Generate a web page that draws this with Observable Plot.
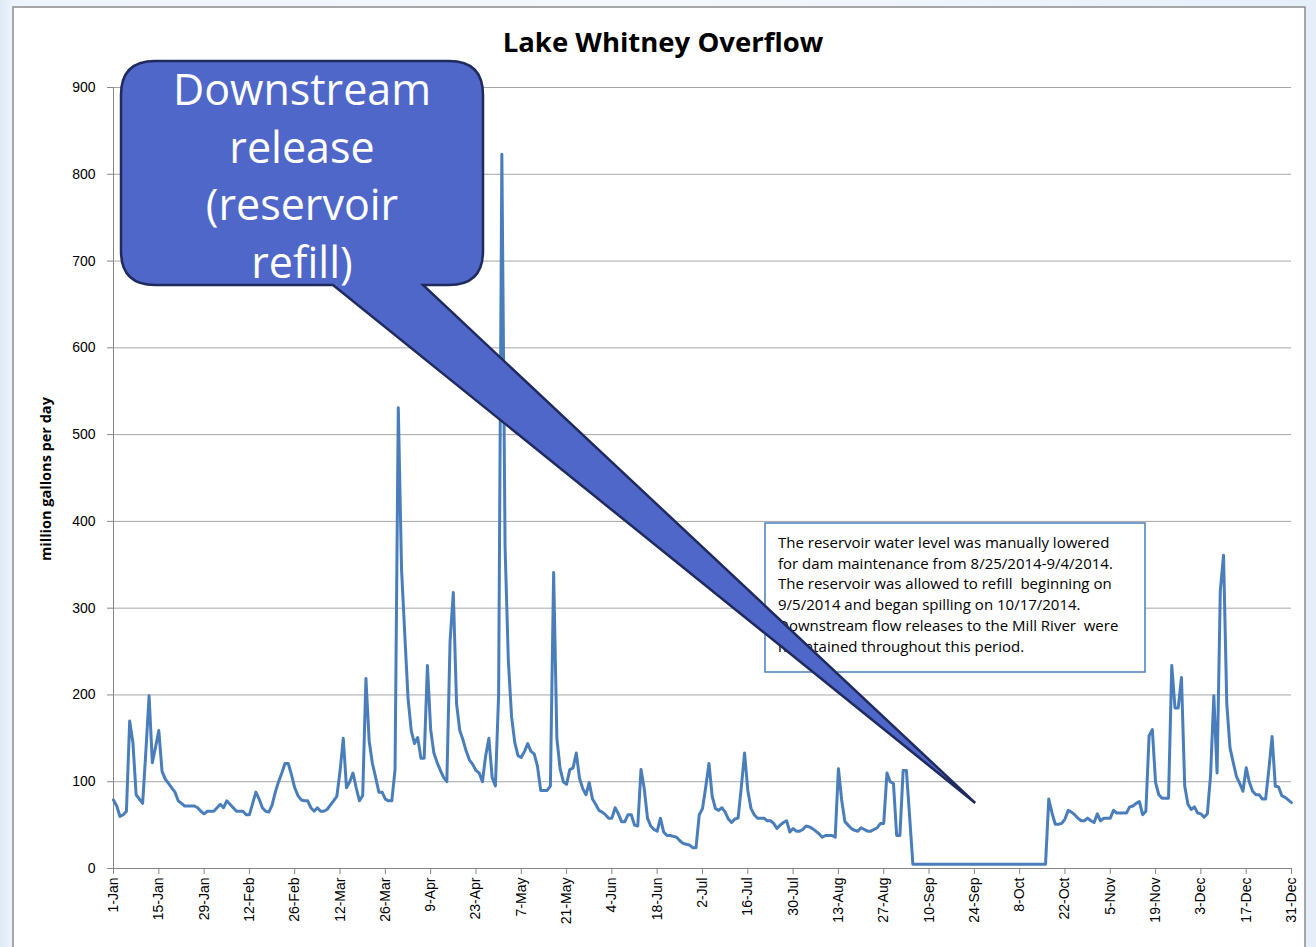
<!DOCTYPE html>
<html><head><meta charset="utf-8">
<script src="https://cdn.jsdelivr.net/npm/d3@7"></script>
<script src="https://cdn.jsdelivr.net/npm/@observablehq/plot@0.6"></script>
<style>
html,body{margin:0;padding:0;width:1316px;height:947px;overflow:hidden;
 background:linear-gradient(90deg,#dfeaf7 0px,#eef4fb 14px,#f4f8fc 50%,#e6eff9 100%);}
#chart{position:absolute;left:0;top:0;}
</style></head><body><div id="chart"></div>
<script>
// ---- data (million gallons per day, daily 2014) ----
const jan = [79,72,60,62,66,170,145,85,80,75,135,199,122,140,159,112,103,98,93,88,78,75,72,72,72,72,70,66,63,66,66];
const feb = [66,70,74,70,78,74,70,66,66,66,62,62,75,88,80,70,66,65,73,88,100,110,121,121,108,93,84,79];
const mar = [78,78,70,66,70,66,66,68,73,78,83,112,150,93,100,110,93,78,84,219,147,121,105,88,88,80,78,78,114,531,345];
const apr = [270,197,159,144,151,127,127,234,160,133,122,113,105,100,262,318,190,159,148,135,125,120,113,110,100,130,150,105,95,200];
const may = [823,370,240,175,145,130,128,135,144,135,132,118,90,90,90,95,341,150,115,100,97,114,116,133,104,92,85,99,80,74,67];
const jun = [65,62,58,58,70,63,54,54,62,62,50,49,114,92,58,49,45,43,58,42,38,38,37,36,32,29,28,27,24,24];
const jul = [62,69,94,121,83,69,67,70,65,57,53,57,58,94,133,90,69,62,58,58,58,55,55,52,46,50,53,55,42,46,43];
const aug = [43,45,49,48,46,43,40,36,38,38,38,36,115,79,54,50,46,44,43,47,45,43,43,45,47,52,52,110,100,98,38];
const sep = [38,113,113,60,5,5,5,5,5,5,5,5,5,5,5,5,5,5,5,5,5,5,5,5,5,5,5,5,5,5];
const oct = [5,5,5,5,5,5,5,5,5,5,5,5,5,5,5,5,80,64,51,51,52,57,67,65,62,58,55,55,58,55,53];
const nov = [63,55,58,58,58,67,64,64,64,64,71,72,75,77,62,66,153,160,99,85,81,81,81,234,185,185,220,95,74,68];
const dec = [71,64,63,59,63,108,199,110,320,361,190,139,122,106,98,89,116,99,89,85,85,80,80,114,152,95,94,84,82,79,76];

const xTickLabels = ["1-Jan","15-Jan","29-Jan","12-Feb","26-Feb","12-Mar","26-Mar","9-Apr","23-Apr","7-May","21-May","4-Jun","18-Jun","2-Jul","16-Jul","30-Jul","13-Aug","27-Aug","10-Sep","24-Sep","8-Oct","22-Oct","5-Nov","19-Nov","3-Dec","17-Dec","31-Dec"];
const yTicks = [0,100,200,300,400,500,600,700,800,900];

const title = "Lake Whitney Overflow";
const yLabel = "million gallons per day";
const calloutLines = ["Downstream","release","(reservoir","refill)"];
const calloutTarget = {date: "2014-09-24T10:00:00Z", value: 75};
const noteLines = [
  "The reservoir water level was manually lowered",
  "for dam maintenance from 8/25/2014-9/4/2014.",
  "The reservoir was allowed to refill  beginning on",
  "9/5/2014 and began spilling on 10/17/2014.",
  "Downstream flow releases to the Mill River  were",
  "maintained throughout this period."
];

// ---- build table ----
const values = [jan,feb,mar,apr,may,jun,jul,aug,sep,oct,nov,dec].flat();
const data = values.map((v,i)=>({date:new Date(Date.UTC(2014,0,1+i)), value:v}));
const tickDates = xTickLabels.map((l,i)=>new Date(Date.UTC(2014,0,1+14*i)));
const labelOf = new Map(tickDates.map((d,i)=>[+d, xTickLabels[i]]));

const W = 1316, H = 947;
const font = "'Liberation Sans', Arial, sans-serif";
const sans = "'Open Sans', sans-serif";

const plot = Plot.plot({
  width: W, height: H,
  marginLeft: 113, marginRight: 25, marginTop: 87, marginBottom: 79,
  style: {fontFamily: font, fontSize: "14px", background: "transparent", color: "#000", overflow: "visible"},
  x: {type: "utc", domain: [tickDates[0], tickDates[tickDates.length-1]]},
  y: {domain: [0, 900]},
  marks: [
    Plot.ruleY(yTicks.slice(1), {stroke: "#a6a6a6", strokeWidth: 1}),
    Plot.axisY({ticks: yTicks, tickSize: 6, tickPadding: 12, label: null, fontSize: 14, tickFormat: d => String(d)}),
    Plot.axisX({ticks: tickDates, tickSize: 6, tickPadding: 3, tickRotate: -90, label: null, fontSize: 14,
      tickFormat: d => labelOf.get(+d)}),
    Plot.ruleY([0], {stroke: "#868686", strokeWidth: 1}),
    Plot.ruleX([tickDates[0]], {stroke: "#868686", strokeWidth: 1}),
    Plot.line(data, {x: "date", y: "value", stroke: "#4a7ebb", strokeWidth: 3, strokeLinejoin: "round", curve: "linear"})
  ]
});

document.getElementById("chart").appendChild(plot);
const svg = d3.select(plot);
svg.selectAll("g[aria-label='y-axis tick'], g[aria-label='x-axis tick']").attr("stroke", "#868686");

// chart area background (inserted first)
svg.insert("rect", ":first-child")
  .attr("x", 13).attr("y", 7).attr("width", 1292).attr("height", 960)
  .attr("fill", "#fff").attr("stroke", "#8c8c8c").attr("stroke-width", 1.5);

const xs = plot.scale("x"), ys = plot.scale("y");

// title
svg.append("text").attr("x", 663).attr("y", 45).attr("text-anchor", "middle").attr("dominant-baseline", "middle")
  .attr("font-family", sans).attr("font-weight", "bold").attr("font-size", 27.5).attr("fill", "#000").text(title);

// y label
svg.append("text").attr("transform", "translate(47,479) rotate(-90)").attr("text-anchor", "middle")
  .attr("dominant-baseline", "middle").attr("font-family", sans).attr("font-weight", "bold").attr("font-size", 14.5)
  .attr("fill", "#000").text(yLabel);

// note box
const note = svg.append("g");
note.append("rect").attr("x", 765).attr("y", 523).attr("width", 380).attr("height", 149)
  .attr("fill", "#fff").attr("stroke", "#4a7ebb").attr("stroke-width", 1.5);
noteLines.forEach((t,i)=>{
  note.append("text").attr("x", 778).attr("y", 548 + i*20.7).attr("text-anchor", "start")
    .attr("font-family", sans).attr("font-size", 15).attr("fill", "#000")
    .style("white-space", "pre").text(t);
});

// callout (rounded rectangle with pointer toward data point)
const tx = xs.apply(new Date(calloutTarget.date)), ty = ys.apply(calloutTarget.value);
const L = 121, T = 61, R = 483, B = 285, r = 34, b1 = 423, b2 = 333;
const p = d3.path();
p.moveTo(L + r, T);
p.lineTo(R - r, T);
p.quadraticCurveTo(R, T, R, T + r);
p.lineTo(R, B - r);
p.quadraticCurveTo(R, B, R - r, B);
p.lineTo(b1, B);
p.lineTo(tx, ty);
p.lineTo(b2, B);
p.lineTo(L + r, B);
p.quadraticCurveTo(L, B, L, B - r);
p.lineTo(L, T + r);
p.quadraticCurveTo(L, T, L + r, T);
p.closePath();
svg.append("path").attr("d", p.toString()).attr("fill", "#4f67c9").attr("stroke", "#1f2a5e")
  .attr("stroke-width", 2.5).attr("stroke-linejoin", "miter");
calloutLines.forEach((t,i)=>{
  svg.append("text").attr("x", 302).attr("y", 105 + i*57.5).attr("text-anchor", "middle")
    .attr("font-family", sans).attr("font-size", 43).attr("fill", "#fff").text(t);
});
</script>
</body></html>
